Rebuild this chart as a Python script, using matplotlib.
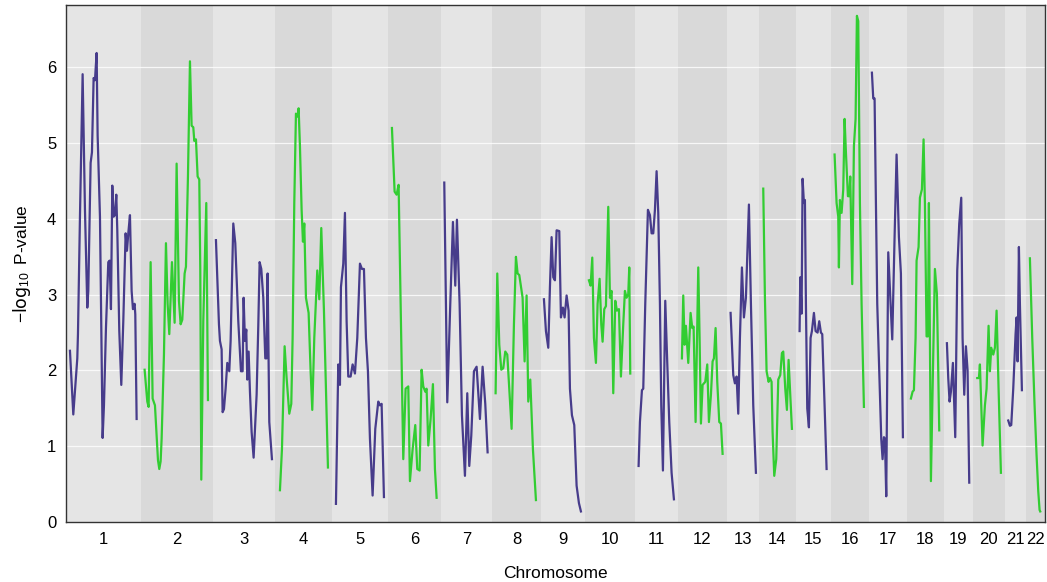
import matplotlib
matplotlib.use("Agg")
import matplotlib.pyplot as plt

# chromosome lengths (Mb, approx) and per-chromosome scan results
chrom_names = [str(i) for i in range(1, 23)]
chrom_len = [225, 216, 186, 171, 168, 159, 153, 147, 132, 150, 129,
             147, 96, 111, 105, 114, 114, 111, 87, 96, 63, 57]

pos1 = [12, 22, 34, 36, 42, 50, 57, 64, 67, 74, 78, 83, 87, 92, 95, 102, 110, 114, 120, 127,
        131, 135, 139, 143, 147, 151, 154, 160, 166, 172, 179, 183, 187, 192, 197, 201, 206, 208, 212]
lod1 = [2.26, 1.42, 2.16, 2.48, 4.03, 5.91, 4.12, 2.83, 3.05, 4.74, 4.88, 5.86, 5.83, 6.19, 5.10, 4.03,
        1.11, 1.54, 2.56, 3.43, 3.45, 2.81, 4.44, 4.03, 4.05, 4.32, 3.85, 2.52, 1.81, 2.65, 3.81, 3.58,
        3.81, 4.05, 3.05, 2.81, 2.88, 2.74, 1.36]

pos2 = [11, 19, 23, 29, 35, 42, 47, 51, 55, 59, 62, 69, 75, 80, 85, 93, 101, 107, 114, 119, 124, 131, 135,
        141, 147, 152, 157, 160, 165, 170, 175, 178, 181, 187, 196, 201]
lod2 = [2.01, 1.59, 1.52, 3.43, 1.63, 1.54, 1.14, 0.82, 0.70, 0.80, 1.10, 2.21, 3.68, 2.88, 2.48, 3.43,
        2.63, 4.73, 2.92, 2.61, 2.67, 3.28, 3.37, 4.56, 6.08, 5.23, 5.21, 5.03, 5.05, 4.56, 4.52, 3.32,
        0.56, 2.65, 4.21, 1.61]

pos3 = [9, 18, 21, 26, 29, 33, 38, 43, 49, 53, 61, 67, 76, 84, 89, 92, 96, 100, 103, 107, 111, 116,
        122, 131, 136, 140, 145, 151, 157, 161, 164, 169, 177]
lod3 = [3.72, 2.61, 2.39, 2.28, 1.45, 1.49, 1.76, 2.10, 1.99, 2.39, 3.94, 3.68, 2.65, 1.99, 1.99, 2.96,
        2.39, 2.54, 1.88, 2.25, 1.72, 1.19, 0.85, 1.68, 2.59, 3.43, 3.34, 2.96, 2.16, 2.16, 3.28, 1.32, 0.83]

pos4 = [15, 21, 29, 35, 43, 49, 53, 58, 63, 68, 71, 75, 80, 84, 88, 93, 101, 107, 112, 118, 127, 133,
        139, 147, 153, 159]
lod4 = [0.42, 0.96, 2.32, 1.90, 1.43, 1.56, 2.43, 4.21, 5.39, 5.35, 5.46, 4.96, 4.12, 3.70, 3.94, 2.96,
        2.76, 1.99, 1.48, 2.43, 3.32, 2.94, 3.88, 2.79, 1.76, 0.72]

pos5 = [12, 19, 24, 27, 34, 39, 44, 49, 56, 62, 69, 76, 84, 90, 96, 102, 108, 114, 122, 130, 139, 144,
        149, 156]
lod5 = [0.24, 2.08, 1.81, 3.10, 3.41, 4.08, 2.65, 1.92, 1.92, 2.08, 1.96, 2.43, 3.41, 3.34, 3.34, 2.43,
        1.99, 1.10, 0.35, 1.23, 1.59, 1.54, 1.56, 0.33]

pos6 = [12, 20, 26, 32, 46, 53, 61, 66, 74, 82, 88, 95, 101, 106, 112, 116, 121, 128, 135, 141, 146]
lod6 = [5.20, 4.36, 4.32, 4.45, 0.83, 1.76, 1.79, 0.54, 0.96, 1.28, 0.70, 0.68, 2.01, 1.79, 1.72, 1.76,
        1.01, 1.36, 1.82, 0.70, 0.32]

pos7 = [10, 19, 28, 36, 43, 48, 56, 63, 72, 79, 85, 91, 99, 107, 117, 125, 133, 140]
lod7 = [4.48, 1.58, 2.88, 3.96, 3.12, 3.99, 2.88, 1.41, 0.61, 1.70, 0.74, 1.14, 1.99, 2.05, 1.36, 2.05,
        1.56, 0.92]

pos8 = [11, 16, 22, 28, 34, 40, 46, 52, 59, 66, 72, 77, 82, 86, 92, 98, 104, 109, 115, 123, 132]
lod8 = [1.70, 3.28, 2.34, 2.01, 2.03, 2.25, 2.21, 1.76, 1.23, 2.61, 3.50, 3.28, 3.26, 3.14, 2.96, 2.12,
        2.99, 1.59, 1.88, 0.96, 0.29]

pos9 = [9, 15, 22, 27, 32, 37, 42, 47, 55, 60, 66, 71, 77, 83, 87, 93, 100, 107, 114, 120]
lod9 = [2.94, 2.52, 2.30, 3.10, 3.76, 3.23, 3.19, 3.85, 3.84, 2.70, 2.83, 2.70, 2.99, 2.79, 1.76, 1.41,
        1.28, 0.48, 0.25, 0.14]

pos10 = [12, 17, 22, 27, 33, 38, 44, 49, 53, 58, 63, 70, 75, 80, 85, 91, 96, 102, 108, 115, 120, 125,
         130, 133, 136]
lod10 = [3.19, 3.12, 3.49, 2.43, 2.10, 2.88, 3.21, 2.61, 2.38, 2.81, 2.85, 4.16, 2.96, 3.05, 1.70, 2.92,
         2.79, 2.81, 1.92, 2.61, 3.05, 2.96, 3.01, 3.36, 1.96]

pos11 = [11, 15, 21, 25, 31, 39, 45, 50, 55, 60, 65, 70, 75, 79, 84, 91, 97, 103, 110, 117]
lod11 = [0.74, 1.32, 1.74, 1.76, 2.88, 4.12, 4.05, 3.81, 3.81, 4.12, 4.63, 4.08, 2.88, 1.54, 0.68, 2.92,
         2.10, 1.32, 0.65, 0.30]

pos12 = [12, 16, 20, 24, 31, 38, 43, 47, 53, 61, 65, 69, 74, 82, 88, 93, 99, 104, 108, 113, 118, 124,
         129, 134]
lod12 = [2.16, 2.99, 2.34, 2.59, 2.10, 2.76, 2.56, 2.58, 1.32, 3.36, 2.43, 1.30, 1.81, 1.85, 2.08, 1.32,
         1.68, 2.12, 2.16, 2.56, 1.85, 1.32, 1.30, 0.90]

pos13 = [11, 19, 24, 29, 34, 39, 45, 51, 57, 66, 72, 79, 87]
lod13 = [2.76, 1.94, 1.83, 1.92, 1.43, 2.43, 3.36, 2.70, 2.96, 4.19, 2.88, 1.54, 0.65]

pos14 = [13, 18, 23, 29, 33, 38, 41, 46, 52, 58, 64, 69, 73, 79, 84, 89, 94, 99]
lod14 = [4.40, 2.96, 1.99, 1.85, 1.90, 1.85, 1.19, 0.61, 0.83, 1.88, 1.94, 2.23, 2.25, 1.76, 1.48, 2.14,
         1.68, 1.23]

pos15 = [11, 13, 17, 20, 24, 27, 30, 34, 39, 44, 48, 54, 59, 65, 70, 75, 79, 86, 92]
lod15 = [2.52, 3.23, 2.75, 4.53, 4.21, 4.25, 2.88, 1.50, 1.25, 2.43, 2.52, 2.76, 2.52, 2.50, 2.65, 2.50,
         2.48, 1.54, 0.70]

pos16 = [11, 17, 22, 24, 27, 32, 37, 41, 45, 51, 55, 58, 64, 69, 74, 78, 82, 87, 92, 99]
lod16 = [4.85, 4.21, 4.03, 3.36, 4.25, 4.08, 4.39, 5.32, 4.88, 4.30, 4.30, 4.56, 3.14, 4.96, 5.32, 6.68,
         6.61, 4.21, 2.88, 1.52]

pos17 = [9, 13, 17, 21, 25, 31, 37, 41, 45, 48, 52, 58, 65, 70, 77, 83, 90, 96, 102]
lod17 = [5.93, 5.59, 5.59, 4.21, 2.88, 1.99, 1.10, 0.83, 1.12, 1.10, 0.34, 3.56, 2.88, 2.41, 3.76, 4.85,
         3.76, 3.28, 1.12]

pos18 = [12, 17, 21, 26, 29, 35, 39, 45, 50, 54, 59, 63, 66, 69, 72, 79, 84, 90, 97]
lod18 = [1.63, 1.72, 1.74, 2.43, 3.45, 3.63, 4.28, 4.39, 5.05, 4.21, 2.45, 2.45, 4.21, 2.43, 0.54, 2.21,
         3.34, 3.01, 1.21]

pos19 = [9, 13, 17, 21, 27, 34, 40, 46, 52, 56, 61, 66, 71, 76]
lod19 = [2.36, 1.90, 1.59, 1.72, 2.10, 1.12, 3.32, 3.94, 4.28, 2.43, 1.68, 2.32, 2.00, 0.52]

pos20 = [13, 18, 21, 29, 36, 41, 47, 51, 55, 61, 66, 71, 77, 84]
lod20 = [1.90, 1.90, 2.08, 1.01, 1.54, 1.76, 2.59, 1.99, 2.30, 2.21, 2.30, 2.79, 1.76, 0.65]

pos21 = [10, 15, 19, 25, 32, 35, 38, 42, 45, 51]
lod21 = [1.34, 1.27, 1.28, 1.76, 2.48, 2.70, 2.12, 3.63, 2.88, 1.74]

pos22 = [12, 19, 26, 32, 37, 41, 43]
lod22 = [3.48, 2.43, 1.54, 0.88, 0.41, 0.16, 0.14]

positions = [pos1, pos2, pos3, pos4, pos5, pos6, pos7, pos8, pos9, pos10, pos11,
             pos12, pos13, pos14, pos15, pos16, pos17, pos18, pos19, pos20, pos21, pos22]
scores = [lod1, lod2, lod3, lod4, lod5, lod6, lod7, lod8, lod9, lod10, lod11,
          lod12, lod13, lod14, lod15, lod16, lod17, lod18, lod19, lod20, lod21, lod22]

col_odd = "#473C8B"   # slateblue4
col_even = "#32CD32"  # limegreen
bg_odd = "#e5e5e5"
bg_even = "#d9d9d9"

plt.rcParams["font.family"] = ["Liberation Sans", "DejaVu Sans"]
plt.rcParams["mathtext.default"] = "regular"

fig = plt.figure(figsize=(10.47, 5.82), dpi=100)
ax = fig.add_axes([0.063, 0.103, 0.935, 0.888])

offset = 0
mids = []
for i in range(len(chrom_len)):
    start = offset
    end = offset + chrom_len[i]
    ax.axvspan(start, end, color=bg_odd if i % 2 == 0 else bg_even, lw=0, zorder=0)
    mids.append((start + end) / 2)
    xs = [start + p for p in positions[i]]
    ax.plot(xs, scores[i], color=col_odd if i % 2 == 0 else col_even, lw=1.6, zorder=3,
            solid_joinstyle="round")
    offset = end

# horizontal white grid
for yv in range(1, 7):
    ax.axhline(yv, color="white", lw=0.9, alpha=0.8, zorder=1)

ax.set_xlim(0, offset)
ax.set_ylim(0, 6.82)
ax.set_xticks(mids)
ax.set_xticklabels(chrom_names)
ax.set_yticks(range(0, 7))
ax.tick_params(length=0, labelsize=12, colors="black", pad=7)
for s in ax.spines.values():
    s.set_color("#333333")
    s.set_linewidth(1.0)

ax.set_xlabel("Chromosome", fontsize=12.5, labelpad=14)
ax.set_ylabel("$-\\log_{10}$ P-value", fontsize=12.5, labelpad=10)

fig.savefig("out.png", dpi=100)
